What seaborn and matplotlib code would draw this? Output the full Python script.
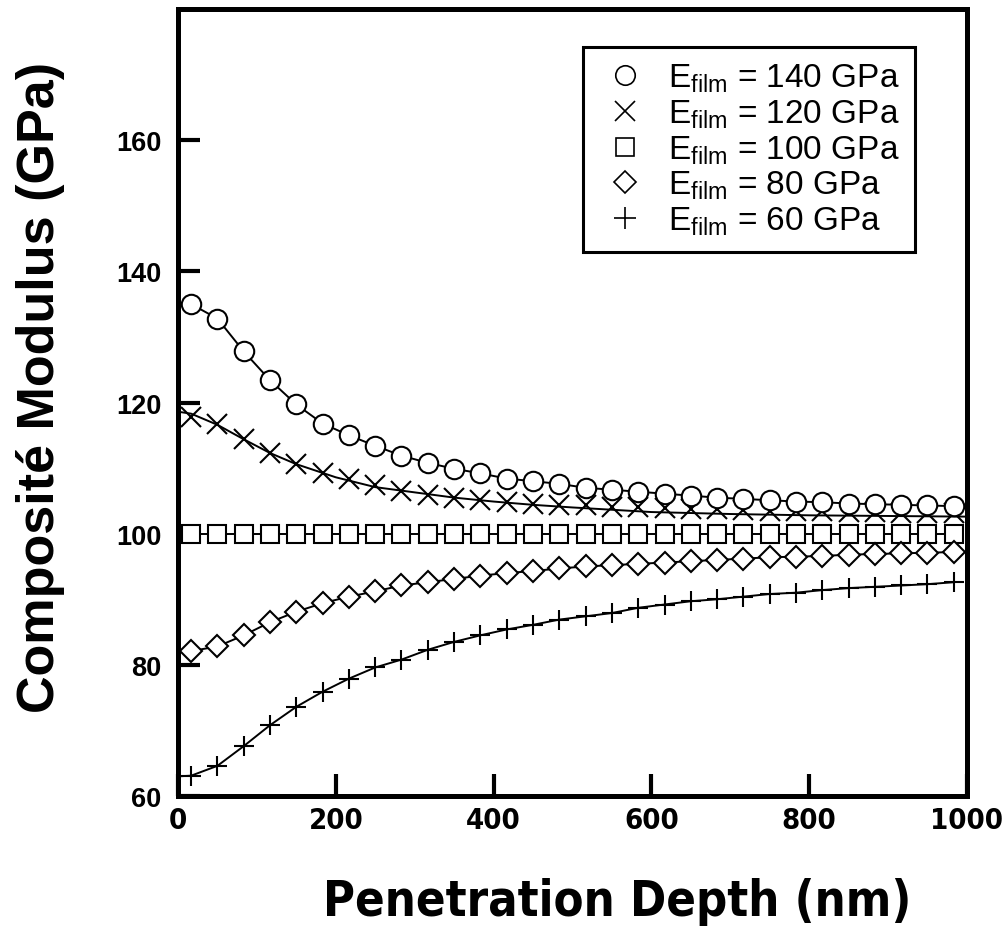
import matplotlib
matplotlib.use("Agg")
import matplotlib.pyplot as plt
from matplotlib.lines import Line2D
from matplotlib import font_manager as fm
import seaborn as sns

# ---- data ----
depth = [16.7, 50.0, 83.3, 116.7, 150.0, 183.3, 216.7, 250.0, 283.3, 316.7,
         350.0, 383.3, 416.7, 450.0, 483.3, 516.7, 550.0, 583.3, 616.7, 650.0,
         683.3, 716.7, 750.0, 783.3, 816.7, 850.0, 883.3, 916.7, 950.0, 983.3]

e140 = [135.0, 132.8, 127.8, 123.4, 119.7, 116.8, 115.0, 113.4, 111.9, 110.8,
        109.9, 109.2, 108.4, 108.0, 107.6, 107.0, 106.7, 106.4, 106.1, 105.8,
        105.5, 105.3, 105.1, 104.9, 104.8, 104.6, 104.5, 104.4, 104.3, 104.2]
e120 = [117.8, 116.8, 114.5, 112.3, 110.7, 109.3, 108.3, 107.4, 106.5, 105.9,
        105.5, 105.2, 104.9, 104.6, 104.4, 104.3, 104.1, 104.0, 103.9, 103.8,
        103.7, 103.6, 103.5, 103.4, 103.4, 103.3, 103.3, 103.2, 103.2, 103.1]
e100 = [100.0] * 30
e80 = [82.1, 82.8, 84.5, 86.5, 88.1, 89.4, 90.4, 91.2, 92.1, 92.6,
       93.1, 93.6, 94.0, 94.3, 94.7, 95.0, 95.2, 95.4, 95.6, 95.8,
       96.0, 96.2, 96.4, 96.5, 96.6, 96.8, 96.9, 97.0, 97.1, 97.2]
e60 = [63.1, 64.6, 67.6, 70.8, 73.6, 75.9, 77.9, 79.6, 80.8, 82.3,
       83.5, 84.5, 85.4, 86.1, 86.9, 87.4, 87.9, 88.7, 89.2, 89.7,
       90.0, 90.4, 90.8, 91.0, 91.4, 91.7, 91.9, 92.1, 92.3, 92.6]

# fitted curve for the 120 GPa film
fit_depth = [0, 16.7, 50, 83.3, 116.7, 150, 200, 250, 300, 350, 400, 450, 500,
             600, 700, 800, 900, 1000]
fit_120 = [118.6, 118.3, 116.6, 114.4, 112.3, 110.6, 108.6, 107.1, 106.3, 105.5,
           104.9, 104.4, 104.0, 103.3, 103.0, 102.8, 102.7, 102.6]
start_60 = 63.0

labels = ["140", "120", "100", "80", "60"]
xticks = [0, 200, 400, 600, 800, 1000]
yticks = [60, 80, 100, 120, 140, 160]

sns.set_theme(style="white")
plt.rcParams["font.family"] = ["Liberation Sans", "DejaVu Sans"]
plt.rcParams["mathtext.fontset"] = "custom"
plt.rcParams["mathtext.rm"] = "Liberation Sans"
for k in ["text.color", "axes.labelcolor", "xtick.color", "ytick.color"]:
    plt.rcParams[k] = "black"

# condensed font for x axis texts, if available
cond_family = None
try:
    fp = fm.FontProperties(family="DejaVu Sans", stretch="condensed", weight="bold")
    path = fm.findfont(fp, fallback_to_default=False)
    if "Condensed" in path:
        cond_family = "DejaVu Sans"
except Exception:
    cond_family = None

fig = plt.figure(figsize=(10.02, 9.37), dpi=100)
ax = fig.add_axes([0.1776, 0.1494, 0.7874, 0.8399])

lw = 1.4
mew = 1.5

sns.lineplot(x=depth, y=e120, ax=ax, linestyle="none", marker="x", markersize=14,
             markeredgewidth=mew, color="black", markeredgecolor="black")
sns.lineplot(x=fit_depth, y=fit_120, ax=ax, color="black", linewidth=lw)

sns.lineplot(x=depth, y=e140, ax=ax, color="black", linewidth=lw, marker="o",
             markersize=14, markerfacecolor="white", markeredgecolor="black",
             markeredgewidth=mew)
sns.lineplot(x=depth, y=e100, ax=ax, color="black", linewidth=lw, marker="s",
             markersize=12.5, markerfacecolor="white", markeredgecolor="black",
             markeredgewidth=mew)
sns.lineplot(x=depth, y=e80, ax=ax, color="black", linewidth=lw, marker="D",
             markersize=11.5, markerfacecolor="white", markeredgecolor="black",
             markeredgewidth=mew)
sns.lineplot(x=[0.0] + depth, y=[start_60] + e60, ax=ax, color="black",
             linewidth=lw)
sns.lineplot(x=depth, y=e60, ax=ax, linestyle="none", marker="+", markersize=15,
             markeredgewidth=mew, color="black", markeredgecolor="black")

ax.set_xlim(0, 1000)
ax.set_ylim(60, 180)
ax.set_xticks(xticks)
ax.set_yticks(yticks)

if cond_family:
    xt_kw = dict(fontfamily=cond_family, fontstretch="condensed", fontweight="bold",
                 fontsize=21)
    xl_kw = dict(fontfamily=cond_family, fontstretch="condensed", fontweight="bold",
                 fontsize=35)
else:
    xt_kw = dict(fontweight="bold", fontsize=19)
    xl_kw = dict(fontweight="bold", fontsize=37)

ax.set_xticklabels([str(t) for t in xticks], **xt_kw)
ax.set_yticklabels([str(t) for t in yticks], fontweight="bold", fontsize=19.5)

for s in ax.spines.values():
    s.set_linewidth(3.6)
    s.set_color("black")
ax.tick_params(axis="both", direction="in", length=16, width=3, color="black",
               top=False, right=False, left=True, bottom=True)
ax.tick_params(axis="y", pad=12)
ax.tick_params(axis="x", pad=7)

ax.set_xlabel("Penetration Depth (nm)", **xl_kw)
ax.xaxis.set_label_coords(0.557, -0.103)
ax.set_ylabel("Composité Modulus (GPa)", fontweight="bold", fontsize=37.5)
ax.yaxis.set_label_coords(-0.143, 0.52)

mk = [("o", 14), ("x", 14), ("s", 13), ("D", 11.5), ("+", 16)]
handles = []
for (m, ms), lab in zip(mk, labels):
    handles.append(Line2D([], [], linestyle="none", marker=m, markersize=ms,
                          markerfacecolor="white", markeredgecolor="black",
                          markeredgewidth=1.2, color="black",
                          label=r"$\mathregular{E_{film}}$ = " + lab + " GPa"))
leg = ax.legend(handles=handles, loc="upper right", bbox_to_anchor=(0.934, 0.952),
                fontsize=24, frameon=True, fancybox=False, edgecolor="black",
                framealpha=1, borderpad=0.45, labelspacing=0.1, handletextpad=0.5,
                borderaxespad=0, handlelength=1.6)
leg.get_frame().set_linewidth(2.2)

fig.savefig("out.png", dpi=100, facecolor="white")
